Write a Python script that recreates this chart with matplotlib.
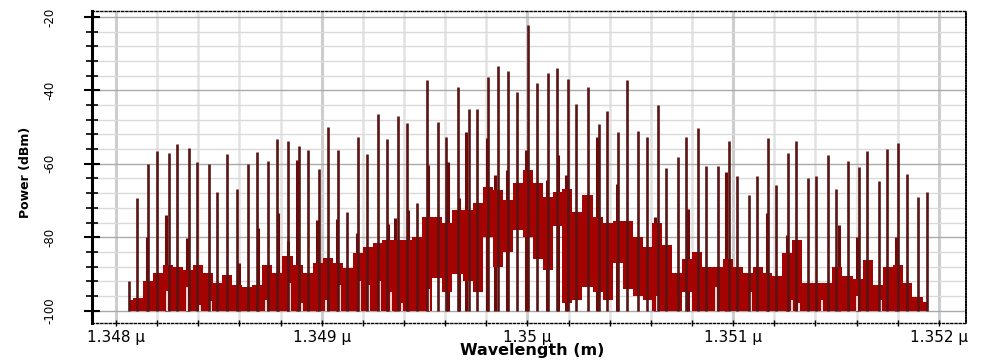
import matplotlib
matplotlib.use("Agg")
import matplotlib.pyplot as plt
import numpy as np

# wavelength of the main comb lines, nm above 1348 nm
peak_off = [0.063, 0.104, 0.157, 0.201, 0.258, 0.298, 0.355, 0.395, 0.452, 0.490, 0.541,
            0.587, 0.640, 0.684, 0.738, 0.781, 0.835, 0.890, 0.932, 0.987, 1.029,
            1.081, 1.125, 1.178, 1.219, 1.275, 1.316, 1.372, 1.413, 1.465, 1.511,
            1.563, 1.606, 1.661, 1.714, 1.756, 1.810, 1.855, 1.907, 1.949, 2.004, 2.046,
            2.102, 2.143, 2.196, 2.236, 2.293, 2.347, 2.388, 2.442, 2.483, 2.539, 2.580,
            2.635, 2.675, 2.732, 2.773, 2.828, 2.870, 2.925, 2.979, 3.019, 3.076,
            3.116, 3.170, 3.210, 3.267, 3.307, 3.364, 3.405, 3.460, 3.502, 3.557,
            3.611, 3.651, 3.708, 3.748, 3.802, 3.845, 3.899, 3.943]
peak_dbm = [-91.9, -69.2, -60.1, -56.4, -57.1, -54.7, -55.8, -59.4, -60.1, -67.6, -57.4,
            -66.9, -60.1, -56.7, -59.2, -53.3, -53.7, -55.1, -56.2, -61.4, -50.1,
            -56.2, -73.1, -52.6, -57.3, -46.5, -53.3, -46.9, -49.0, -70.8, -37.2,
            -48.7, -52.8, -39.2, -45.2, -45.2, -36.4, -33.4, -34.7, -40.4, -22.3, -38.1,
            -35.3, -33.9, -36.9, -43.8, -39.2, -49.1, -45.6, -51.3, -37.2, -51.0, -52.8,
            -44.1, -61.2, -58.1, -52.6, -50.2, -60.6, -60.6, -53.7, -63.3, -68.5,
            -63.3, -53.1, -65.8, -57.0, -53.7, -64.0, -63.3, -57.6, -66.9, -59.2,
            -61.0, -56.5, -64.7, -56.0, -54.3, -62.8, -69.0, -67.6]

# noise floor around each line: top and bottom of the filled band
floor_hi = [-97.0, -96.6, -92.0, -89.8, -87.6, -88.0, -89.0, -87.6, -89.8, -92.5, -90.3,
            -93.0, -93.6, -93.0, -87.6, -89.8, -85.0, -87.6, -89.8, -87.0, -85.7,
            -87.0, -88.4, -84.3, -82.6, -81.6, -80.8, -80.8, -80.8, -79.9, -74.4,
            -74.4, -76.0, -72.6, -72.6, -70.7, -66.2, -67.1, -69.9, -65.3, -61.7, -65.3,
            -69.0, -67.6, -67.0, -73.0, -68.5, -74.4, -76.2, -75.5, -75.5, -79.9, -82.6,
            -76.0, -82.0, -89.8, -86.0, -84.0, -88.0, -88.0, -86.0, -88.0, -89.8,
            -88.0, -89.8, -90.7, -84.3, -80.8, -92.5, -92.5, -92.5, -88.0, -90.7,
            -91.5, -86.2, -93.0, -88.0, -87.6, -92.5, -96.3, -97.6]
floor_lo = [-100.0] * 31 + [
            -91.0, -95.0, -90.0, -92.0, -95.0, -80.0, -88.0, -84.0, -78.0, -80.0, -86.0,
            -89.0, -77.0, -98.0, -97.0, -93.5, -95.0, -97.0, -87.0, -94.0, -96.0, -97.0,
            -100.0, -100.0, -100.0, -95.0] + [-100.0] * 24

# smaller side lines
side_off = [0.149, 0.242, 0.344, 0.598, 0.692, 0.786, 0.838, 0.879, 0.976, 1.073,
            1.170, 1.324, 1.356, 1.421, 1.518, 1.616, 1.668, 1.702, 1.802, 1.843,
            1.899, 1.992, 2.094, 2.150, 2.186, 2.337, 2.437, 2.620, 2.782, 2.966,
            3.165, 3.262, 3.513, 3.602, 3.793]
side_dbm = [-79.9, -74.0, -80.1, -87.1, -77.6, -73.5, -81.0, -59.0, -75.3, -75.1,
            -78.9, -76.4, -74.8, -72.6, -60.3, -59.4, -69.4, -51.3, -53.1, -63.0,
            -61.7, -56.2, -64.4, -57.6, -63.0, -52.6, -65.5, -74.4, -72.3, -62.2,
            -73.4, -79.4, -76.7, -80.0, -80.0]

# narrow gaps where the floor drops back to the bottom
dip_off = [0.250, 0.343, 0.408, 0.460, 0.729, 0.845, 0.905, 1.020, 1.090, 1.185,
           1.230, 1.283, 1.335, 1.390, 1.520, 2.628, 2.915, 3.085, 3.285, 3.320,
           3.430, 3.600, 3.720]
dip_dbm = [-94.7, -93.5, -98.5, -97.4, -97.0, -92.5, -98.0, -97.0, -93.0, -92.0,
           -93.0, -92.0, -95.0, -98.0, -94.0, -96.0, -93.5, -95.0, -97.0, -98.0,
           -97.0, -96.0, -97.0]

x_ticks = [1348, 1349, 1350, 1351, 1352]
x_labels = ["1.348 \u03bc", "1.349 \u03bc", "1.35 \u03bc", "1.351 \u03bc", "1.352 \u03bc"]
y_ticks = [-100, -80, -60, -40, -20]

peak_wl = 1348 + np.array(peak_off)
side_wl = 1348 + np.array(side_off)
dip_wl = 1348 + np.array(dip_off)

fig = plt.figure(figsize=(9.87, 3.6), dpi=100)
ax = fig.add_axes([0.0932, 0.1028, 0.8855, 0.8666])

line_c = "#5a1414"
fill_c = "#a50202"

ax.vlines(side_wl, -100, side_dbm, color="#6e0a0a", lw=2.2, zorder=2)
ax.fill_between(peak_wl, floor_lo, floor_hi, step="mid", color=fill_c, lw=0, zorder=3)
ax.vlines(dip_wl, -100, dip_dbm, color="#fbeaea", lw=1.3, zorder=3.5)
ax.vlines(peak_wl, -100, peak_dbm, color=line_c, lw=1.9, zorder=4)

ax.set_xlim(1347.8833, 1352.132)
ax.set_ylim(-103.38, -18.37)

ax.set_xticks(x_ticks)
ax.set_xticklabels(x_labels, fontsize=11)
ax.set_xticks(np.arange(1348, 1352.01, 0.2), minor=True)
ax.set_yticks(y_ticks)
ax.set_yticklabels([str(v) for v in y_ticks], rotation=90, va="center", fontsize=8.5)
ax.set_yticks(np.arange(-100, -19, 4), minor=True)

ax.grid(which="major", axis="x", color="#cdcdcd", lw=2.2, zorder=0)
ax.grid(which="minor", axis="x", color="#e2e2e2", lw=1.8, zorder=0)
ax.grid(which="major", axis="y", color="#a9a9a9", lw=1.0, zorder=0)
ax.grid(which="minor", axis="y", color="#dadada", lw=1.0, zorder=0)
ax.set_axisbelow(True)

ax.tick_params(axis="y", which="major", direction="inout", length=11, width=1.5, pad=20)
ax.tick_params(axis="y", which="minor", direction="inout", length=9, width=1.2)
ax.tick_params(axis="x", which="both", direction="inout", length=4, width=1, pad=3)

ax.spines["left"].set_linewidth(2.2)
for s in ["top", "bottom"]:
    ax.spines[s].set_linestyle((0, (1.5, 1.5)))
    ax.spines[s].set_linewidth(1.0)
ax.spines["right"].set_linestyle((0, (1, 0.6)))
ax.spines["right"].set_linewidth(1.2)

fig.text(0.026, 1 - 172 / 360, "Power (dBm)", rotation=90, fontsize=9, fontweight="bold",
         ha="center", va="center")
fig.text(532 / 987, 1 - 343.5 / 360, "Wavelength (m)", fontsize=11.5, fontweight="bold",
         ha="center", va="top")

fig.savefig("out.png", dpi=100)
